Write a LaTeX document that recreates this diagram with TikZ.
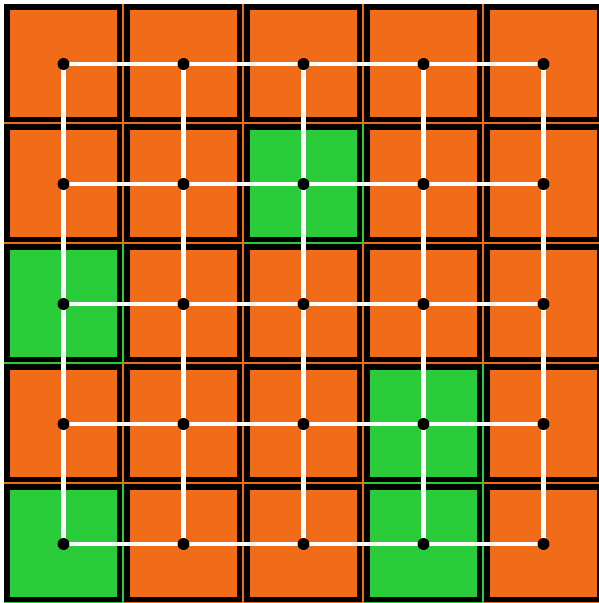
\documentclass[tikz,border=0pt]{standalone}
\usetikzlibrary{calc}
\definecolor{cellorange}{RGB}{240,108,24}
\definecolor{cellgreen}{RGB}{42,204,58}
\pgfdeclarelayer{cells}
\pgfdeclarelayer{links}
\pgfsetlayers{cells,links,main}
\tikzset{
  dot/.style={circle,fill=black,inner sep=0pt,minimum size=12pt},
  link/.style={draw=white,line width=4.5pt},
  cellframe/.style={draw=black,line width=6pt}
}
\begin{document}
\begin{tikzpicture}[x=1bp,y=-1bp]
\useasboundingbox (0,0) rectangle (599,603);
% cells
\begin{pgfonlayer}{cells}
\fill[white] (0,0) rectangle (599,603);
\clip (0,0) rectangle (599,603);
\foreach \r in {0,...,4}{
  \foreach \c in {0,...,4}{
    \def\col{cellorange}
    \ifnum\r=1 \ifnum\c=2 \def\col{cellgreen}\fi\fi
    \ifnum\r=2 \ifnum\c=0 \def\col{cellgreen}\fi\fi
    \ifnum\r=3 \ifnum\c=3 \def\col{cellgreen}\fi\fi
    \ifnum\r=4 \ifnum\c=0 \def\col{cellgreen}\fi\fi
    \ifnum\r=4 \ifnum\c=3 \def\col{cellgreen}\fi\fi
    \pgfmathsetmacro{\xo}{4+120*\c}
    \pgfmathsetmacro{\yo}{4+120*\r}
    \fill[\col] (\xo,\yo) rectangle ++(120,120);
    \draw[cellframe] (\xo+3,\yo+3) rectangle (\xo+115.5,\yo+115.5);
  }
}
\end{pgfonlayer}
% dots
\foreach \r in {0,...,4}{
  \foreach \c in {0,...,4}{
    \node[dot] (d-\r-\c) at (63.5+120*\c,64+120*\r) {};
  }
}
% links
\begin{pgfonlayer}{links}
\foreach \r in {0,...,4}{
  \foreach \c/\n in {0/1,1/2,2/3,3/4}{
    \draw[link] (d-\r-\c.center) -- (d-\r-\n.center);
    \draw[link] (d-\c-\r.center) -- (d-\n-\r.center);
  }
}
\end{pgfonlayer}
\end{tikzpicture}
\end{document}
